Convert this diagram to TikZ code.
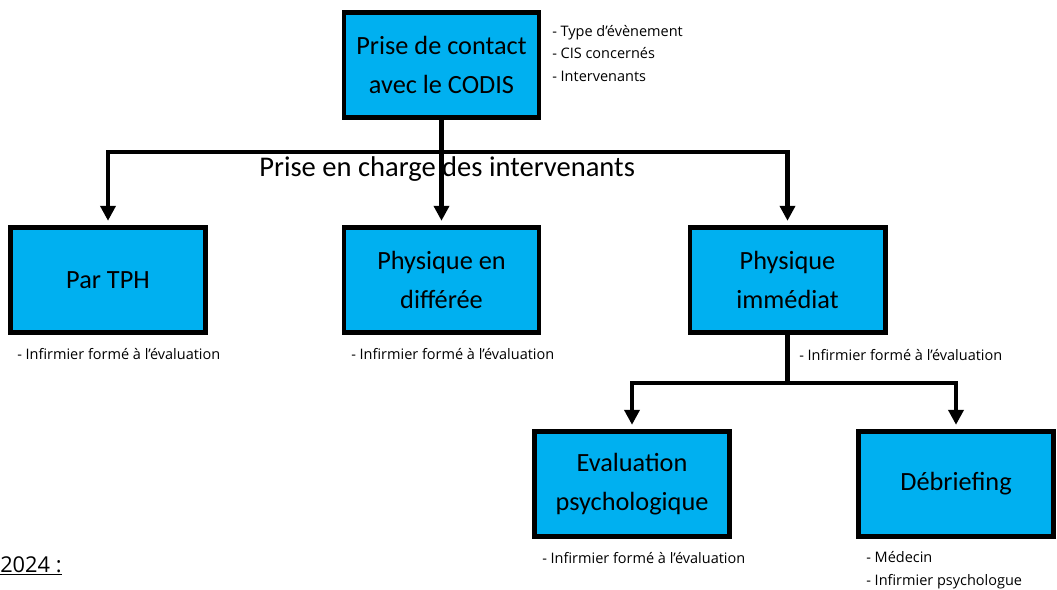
\documentclass[tikz,border=0pt]{standalone}
\usepackage{fontspec}
\setmainfont{Carlito}
\newfontfamily\notefont{Open Sans}
\usetikzlibrary{arrows.meta}
\definecolor{boxblue}{HTML}{00B0F0}
\begin{document}
\begin{tikzpicture}[x=0.025cm, y=-0.025cm,
		box/.style={draw, fill=boxblue, line width=3.5pt, minimum width=4.875cm, minimum height=2.625cm, align=center, font=\fontsize{18.7}{27.6}\selectfont},
		note/.style={anchor=west, align=left, inner sep=0pt, font=\notefont\fontsize{10.3}{16.3}\selectfont},
		link/.style={line width=3.5pt, line join=miter},
		arrow/.style={link, -{Triangle[length=10.6pt, width=10.6pt]}, shorten >=3pt}]
		\useasboundingbox (0,0) rectangle (1057,590);
		\node[box] (Contact) at (441.5,65) {Prise de contact\\avec le CODIS};
		\node[box] (TPH) at (108,280) {Par TPH};
		\node[box] (Differee) at (441.5,280) {Physique en\\différée};
		\node[box] (Immediat) at (787.5,280) {Physique\\immédiat};
		\node[box] (Evaluation) at (632,484) {Evaluation\\psychologique};
		\node[box] (Debriefing) at (956,484) {Débriefing};
		\coordinate (Split) at (441.5,152);
		\coordinate (Split2) at (787.5,383);
		% Texts
		\node[anchor=west, inner sep=0pt, font=\fontsize{20.3}{24}\selectfont] (Prise) at (259,169) {Prise en charge des intervenants};
		\node[note] (Contact note) at (552,53.5) {- Type d’évènement\\- CIS concernés\\- Intervenants};
		\node[note] (TPH note) at (17,354) {- Infirmier formé à l’évaluation};
		\node[note] (Differee note) at (351,354) {- Infirmier formé à l’évaluation};
		\node[note] (Immediat note) at (799,355) {- Infirmier formé à l’évaluation};
		\node[note] (Evaluation note) at (542,558) {- Infirmier formé à l’évaluation};
		\node[note] (Debriefing note) at (866,570) {- Médecin\\- Infirmier psychologue};
		\node[anchor=base west, inner sep=0pt, font=\notefont\fontsize{15.5}{18}\selectfont] (Year) at (0,572) {\underline{2024 :}};
		% Arrows
		\draw[link] (Contact) -- (Split);
		\draw[arrow] (Split) -| (TPH);
		\draw[arrow] (Split) -- (Differee);
		\draw[arrow] (Split) -| (Immediat);
		\draw[link] (Immediat) -- (Split2);
		\draw[arrow] (Split2) -| (Evaluation);
		\draw[arrow] (Split2) -| (Debriefing);
	\end{tikzpicture}
\end{document}
